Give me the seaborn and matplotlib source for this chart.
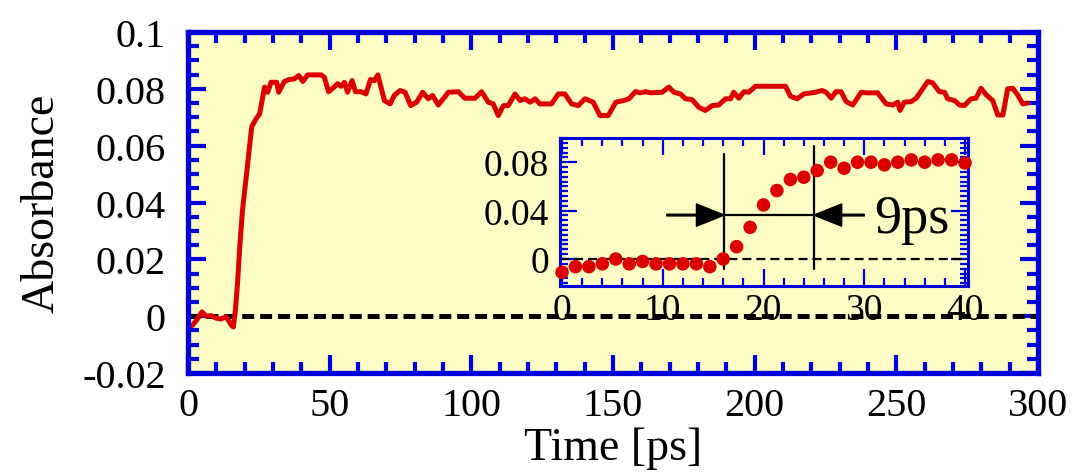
import matplotlib
matplotlib.use("Agg")
import matplotlib.pyplot as plt
import seaborn as sns
from matplotlib.ticker import MultipleLocator

# main trace
main_time = [0, 1.6, 3.3, 4.9, 6.4, 8.1, 9.9, 11.6, 13.4, 15.2, 16.0, 16.7, 17.5, 18.3,
             19.2, 20.3, 22.5, 24.0, 25.3, 27.0, 28.1, 29.3, 31.3, 32.0, 34.0, 35.8,
             37.5, 39.1, 40.5, 42.2, 47.0, 48.1, 49.6, 51.1, 52.8, 54.0, 55.2, 56.3,
             57.9, 59.1, 61.1, 62.8, 64.4, 65.8, 67.0, 69.3, 71.3, 72.8, 74.8, 76.6,
             78.6, 80.7, 82.8, 84.8, 86.3, 88.3, 90.1, 91.9, 95.4, 97.7, 101.3, 103.6,
             106.0, 107.7, 109.5, 111.3, 113.0, 115.4, 117.2, 118.9, 120.7, 122.5,
             124.2, 128.3, 130.7, 133.0, 135.4, 137.7, 140.1, 143.0, 145.4, 148.3,
             151.0, 153.8, 155.6, 157.9, 159.7, 161.5, 163.2, 167.3, 169.7, 171.5,
             173.8, 175.6, 177.9, 180.3, 182.6, 185.0, 187.3, 189.7, 191.5, 192.6,
             194.4, 196.2, 197.9, 200.3, 210.9, 212.6, 215.0, 217.3, 221.5, 223.8,
             225.2, 227.0, 228.7, 230.5, 232.3, 234.6, 237.6, 239.3, 243.4, 246.4,
             248.7, 250.5, 251.3, 252.8, 255.2, 257.0, 259.3, 261.1, 262.8, 265.2,
             267.0, 268.1, 270.5, 272.3, 274.0, 276.4, 278.1, 279.9, 281.7, 284.0,
             285.8, 287.6, 289.3, 291.1, 292.8, 294.6, 296.4]
main_abs = [-0.0035, -0.0032, -0.001, 0.0015, 0.0, 0.0002, -0.0007, -0.001, -0.0002,
            -0.003, -0.0038, 0.002, 0.012, 0.025, 0.037, 0.047, 0.0667, 0.0694,
            0.0713, 0.0806, 0.0788, 0.0823, 0.0823, 0.0788, 0.0826, 0.0833, 0.0835,
            0.0847, 0.0826, 0.0849, 0.0849, 0.0841, 0.079, 0.0802, 0.0818, 0.0809,
            0.0823, 0.0788, 0.0829, 0.079, 0.079, 0.0782, 0.0833, 0.0829, 0.0849,
            0.0759, 0.0747, 0.0777, 0.0794, 0.0788, 0.0741, 0.0753, 0.0788, 0.0765,
            0.0777, 0.0743, 0.0765, 0.0788, 0.079, 0.0767, 0.0767, 0.079, 0.0753,
            0.0747, 0.0706, 0.0741, 0.0741, 0.0782, 0.0759, 0.0765, 0.0753, 0.0765,
            0.0747, 0.0747, 0.0782, 0.0782, 0.0747, 0.0741, 0.0765, 0.0753, 0.0706,
            0.0706, 0.0753, 0.0759, 0.0765, 0.079, 0.0786, 0.079, 0.0786, 0.0788,
            0.0806, 0.0788, 0.0782, 0.0765, 0.0762, 0.0735, 0.0724, 0.0741, 0.0743,
            0.0765, 0.0765, 0.0788, 0.0767, 0.079, 0.0788, 0.0809, 0.0809, 0.0774,
            0.0765, 0.0782, 0.0788, 0.0794, 0.0788, 0.0767, 0.079, 0.079, 0.0755,
            0.0743, 0.0788, 0.0786, 0.0786, 0.0747, 0.0743, 0.0753, 0.0724, 0.0753,
            0.0755, 0.0767, 0.08, 0.0826, 0.0821, 0.079, 0.0788, 0.0765, 0.0759,
            0.0743, 0.0741, 0.0765, 0.0767, 0.0802, 0.0779, 0.0759, 0.0708, 0.0708,
            0.08, 0.0802, 0.0779, 0.0747, 0.075]

# inset: first 40 ps
inset_time = [0, 1.33, 2.67, 4.0, 5.33, 6.67, 8.0, 9.33, 10.67, 12.0, 13.33, 14.67,
              16.0, 17.33, 18.67, 20.0, 21.33, 22.67, 24.0, 25.33, 26.67, 28.0, 29.33,
              30.67, 32.0, 33.33, 34.67, 36.0, 37.33, 38.67, 40.0]
inset_abs = [-0.011, -0.0063, -0.0063, -0.004, 0.0, -0.004, -0.002, -0.004, -0.004,
             -0.004, -0.004, -0.0063, 0.0, 0.0102, 0.0262, 0.0447, 0.0566, 0.0657,
             0.0676, 0.0731, 0.080, 0.075, 0.080, 0.080, 0.0778, 0.080, 0.0819, 0.080,
             0.0819, 0.0819, 0.0794]

rise_start = 16.1
rise_end = 25.0
rise_label = "9ps"

main_yticks = [-0.02, 0, 0.02, 0.04, 0.06, 0.08, 0.1]
main_ylabels = ["-0.02", "0", "0.02", "0.04", "0.06", "0.08", "0.1"]
inset_yticks = [0, 0.04, 0.08]
inset_ylabels = ["0", "0.04", "0.08"]

sns.set_style("ticks")
plt.rcParams["font.family"] = ["Liberation Serif", "DejaVu Serif"]
plt.rcParams["lines.scale_dashes"] = False
plt.rcParams["text.color"] = "black"
plt.rcParams["axes.labelcolor"] = "black"
plt.rcParams["xtick.labelcolor"] = "black"
plt.rcParams["ytick.labelcolor"] = "black"

bg = "#FCFCC4"
blue = "#0000DD"
red = "#DD0000"

fig = plt.figure(figsize=(10.72, 4.77), dpi=100)
ax = fig.add_axes([0.1754, 0.2159, 0.7929, 0.7149])
ax.set_facecolor(bg)

ax.axhline(0, color="black", lw=3.6, dashes=(8.6, 4.3), zorder=1)
sns.lineplot(x=main_time, y=main_abs, ax=ax, color=red, linewidth=3.6,
             sort=False, estimator=None, zorder=2)

ax.set_xlim(0, 300)
ax.set_ylim(-0.02, 0.1)
ax.xaxis.set_major_locator(MultipleLocator(50))
ax.xaxis.set_minor_locator(MultipleLocator(10))
ax.set_yticks(main_yticks)
ax.set_yticklabels(main_ylabels)
ax.yaxis.set_minor_locator(MultipleLocator(0.005))
for s in ax.spines.values():
    s.set_color(blue)
    s.set_linewidth(3.8)
ax.tick_params(which="both", direction="in", top=True, right=True, color=blue,
               labelcolor="black")
ax.tick_params(which="major", length=13, width=3, labelsize=29)
ax.tick_params(which="minor", length=8, width=3)
ax.tick_params(axis="y", which="major", pad=16)
ax.tick_params(axis="x", which="major", pad=10)
ax.set_xlabel("Time [ps]", fontsize=33, labelpad=2, color="black")
ax.set_ylabel("Absorbance", fontsize=33, color="black")
ax.yaxis.set_label_coords(-0.146, 0.5)

# inset
ins = fig.add_axes([0.5224, 0.3983, 0.3806, 0.3103])
ins.set_facecolor(bg)
ins.axhline(0, color="black", lw=1.6, dashes=(6.5, 3.6), zorder=1)
sns.scatterplot(x=inset_time, y=inset_abs, ax=ins, color=red, s=95,
                edgecolor="none", clip_on=False, zorder=5)

ins.set_xlim(-0.2, 40.3)
ins.set_ylim(-0.0223, 0.1)
ins.xaxis.set_major_locator(MultipleLocator(10))
ins.xaxis.set_minor_locator(MultipleLocator(2))
ins.set_yticks(inset_yticks)
ins.set_yticklabels(inset_ylabels)
ins.yaxis.set_minor_locator(MultipleLocator(0.004))
for s in ins.spines.values():
    s.set_color(blue)
    s.set_linewidth(2.2)
ins.tick_params(which="both", direction="in", top=True, right=True, color=blue,
                labelcolor="black")
ins.tick_params(which="major", length=12, width=1.6, labelsize=27)
ins.tick_params(which="minor", length=6, width=1.6)
ins.tick_params(axis="y", which="major", pad=8)
ins.tick_params(axis="x", which="major", pad=5)

# rise-time marker
ins.plot([rise_start, rise_start], [-0.0082, 0.0866], color="black", lw=1.6)
ins.plot([rise_end, rise_end], [-0.0082, 0.0934], color="black", lw=1.6)
ins.plot([rise_start, rise_end], [0.0363, 0.0363], color="black", lw=1.6)
arrow = dict(facecolor="black", edgecolor="black", width=1.2, headwidth=16,
             headlength=20, shrink=0)
ins.annotate("", xy=(rise_start, 0.0363), xytext=(10.4, 0.0363), arrowprops=arrow)
ins.annotate("", xy=(rise_end, 0.0363), xytext=(30.0, 0.0363), arrowprops=arrow)
ins.text(31.0, 0.022, rise_label, fontsize=39, ha="left", va="baseline", color="black")

fig.savefig("out.png", dpi=100, facecolor="white")
